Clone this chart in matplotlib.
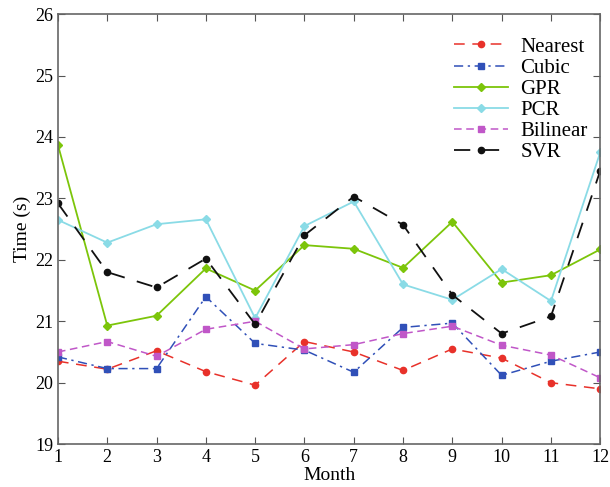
import matplotlib
matplotlib.use("Agg")
import matplotlib.pyplot as plt

plt.rcParams['font.family'] = ['Liberation Serif', 'DejaVu Serif']
plt.rcParams['mathtext.fontset'] = 'stix'

months = list(range(1, 13))
nearest = [20.35, 20.22, 20.52, 20.18, 19.96, 20.67, 20.50, 20.20, 20.55, 20.40, 20.00, 19.90]
cubic = [20.42, 20.23, 20.23, 21.40, 20.64, 20.53, 20.17, 20.90, 20.97, 20.12, 20.35, 20.50]
gpr = [23.87, 20.93, 21.09, 21.86, 21.50, 22.24, 22.18, 21.87, 22.62, 21.63, 21.75, 22.17]
pcr = [22.65, 22.28, 22.58, 22.66, 21.05, 22.55, 22.95, 21.60, 21.35, 21.85, 21.33, 23.75]
bilinear = [20.50, 20.67, 20.43, 20.87, 21.00, 20.55, 20.62, 20.80, 20.92, 20.61, 20.45, 20.08]
svr = [22.92, 21.80, 21.55, 22.02, 20.95, 22.40, 23.03, 22.57, 21.43, 20.80, 21.08, 23.45]

fig = plt.figure(figsize=(6.1, 4.87), dpi=100)
ax = fig.add_axes([0.095, 0.088, 0.889, 0.883])

ax.plot(months, nearest, color='#e8312a', linestyle=(0, (7, 5)), marker='o', markersize=4.5, lw=1.1, label='Nearest')
ax.plot(months, cubic, color='#3050b8', linestyle=(0, (6, 3, 1.5, 3)), marker='s', markersize=4.5, lw=1.1, label='Cubic')
ax.plot(months, gpr, color='#7cc50a', linestyle='-', marker='D', markersize=4.5, lw=1.3, label='GPR')
ax.plot(months, pcr, color='#8adbe6', linestyle='-', marker='D', markersize=4.5, lw=1.3, label='PCR')
ax.plot(months, bilinear, color='#c057c8', linestyle=(0, (5, 3)), marker='s', markersize=4.5, lw=1.1, label='Bilinear')
ax.plot(months, svr, color='#111111', linestyle=(0, (9, 7)), marker='o', markersize=4.5, lw=1.3, label='SVR')

ax.set_xlim(1, 12)
ax.set_ylim(19, 26)
ax.set_xticks(months)
ax.set_yticks(range(19, 27))
ax.tick_params(direction='in', top=True, right=True, labelsize=13, length=5, color='#555555')
for s in ax.spines.values():
    s.set_color('#666666')
    s.set_linewidth(1.2)
ax.set_xlabel('Month', fontsize=14, labelpad=1)
ax.set_ylabel('Time (s)', fontsize=14, labelpad=3)

ax.legend(loc='upper right', bbox_to_anchor=(1.012, 0.99), frameon=False, fontsize=15,
          handlelength=2.6, handletextpad=0.6, labelspacing=0.07)

fig.savefig('out.png', dpi=100)
